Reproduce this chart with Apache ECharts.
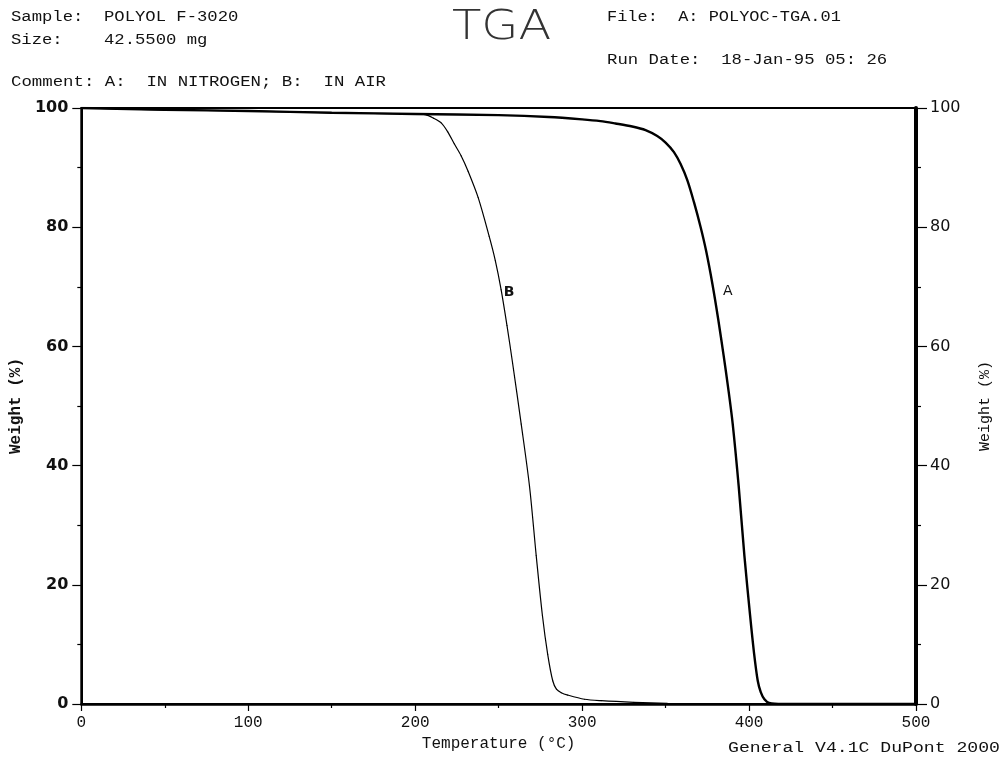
<!DOCTYPE html>
<html>
<head>
<meta charset="utf-8">
<title>TGA</title>
<script src="https://cdn.jsdelivr.net/npm/echarts@6/dist/echarts.min.js"></script>
<style>
    html, body { margin: 0; padding: 0; background: #fff; }
    #tga { width: 1005px; height: 757px; }
</style>
</head>
<body>
<div id="tga"></div>
<script>
// temperature (°C) / weight (%)
var tempA = [0, 50, 100, 150, 200, 250, 280, 300, 311, 320, 330, 338, 345, 350, 355, 359, 363, 367, 371, 374.3, 378.1, 381.5, 384.8, 387.5, 390.2, 393.8, 397.2, 400.6, 403, 405.2, 407, 409.2, 412, 420, 500];
var weightA = [100, 99.7, 99.5, 99.2, 99.0, 98.8, 98.5, 98.1, 97.8, 97.4, 96.9, 96.3, 95.3, 94.2, 92.6, 90.6, 87.9, 84.2, 80.0, 76.0, 70.4, 64.6, 58.4, 53.0, 47.0, 36.5, 24.9, 14.9, 8.5, 3.9, 2.0, 0.8, 0.2, 0, 0];

var tempB = [0, 50, 100, 150, 200, 206, 211, 215.6, 219.5, 223.4, 227.5, 231.7, 237.7, 244.3, 248, 251.5, 255, 258.3, 263.5, 268.5, 272.5, 276.2, 279.4, 282.4, 284.6, 287.5, 291.4, 301.4, 311.4, 331, 351, 380, 420, 500];
var weightB = [100, 99.7, 99.5, 99.2, 99.0, 98.9, 98.3, 97.5, 96.0, 94.0, 92.0, 89.4, 85.0, 78.5, 74.4, 69.5, 63.5, 57.3, 47.0, 36.5, 24.9, 14.9, 8.3, 3.9, 2.5, 1.9, 1.5, 0.8, 0.55, 0.28, 0.12, 0.05, 0, 0];

var xTicks = [0, 100, 200, 300, 400, 500];
var yTicks = [0, 20, 40, 60, 80, 100];

// curve letters sit next to one point of each curve
var labelA = { name: 'A', temp: 378.1 };
var labelB = { name: 'B', temp: 251.5 };

var headerLines = [
    { text: 'Sample:  POLYOL F-3020', x: 11, y: 17, sx: 1.23 },
    { text: 'Size:    42.5500 mg', x: 11, y: 40, sx: 1.23 },
    { text: 'Comment: A:  IN NITROGEN; B:  IN AIR', x: 11, y: 82, sx: 1.24 },
    { text: 'File:  A: POLYOC-TGA.01', x: 607, y: 17, sx: 1.21 },
    { text: 'Run Date:  18-Jan-95 05: 26', x: 607, y: 60, sx: 1.235 },
    { text: 'General V4.1C DuPont 2000', x: 728, y: 748, sx: 1.295 }
];

var mono = '"Liberation Mono", "DejaVu Sans Mono", monospace';

function buildData(temps, weights, lbl, labelStyle) {
    var out = [];
    for (var i = 0; i < temps.length; i++) {
        var item = { value: [temps[i], weights[i]] };
        if (temps[i] === lbl.temp) {
            item.label = Object.assign({ show: true, formatter: lbl.name }, labelStyle);
        }
        out.push(item);
    }
    return out;
}

function buildHeader() {
    var g = [];
    for (var i = 0; i < headerLines.length; i++) {
        var line = headerLines[i];
        g.push({
            type: 'text',
            x: line.x,
            y: line.y,
            scaleX: line.sx,
            style: {
                text: line.text,
                font: '14px ' + mono,
                fill: '#111',
                verticalAlign: 'middle'
            }
        });
    }
    g.push({
        type: 'text',
        x: 452,
        y: 29,
        scaleX: 1.2,
        style: {
            text: 'TGA',
            font: '200 40px "DejaVu Sans", sans-serif',
            fill: '#333',
            verticalAlign: 'middle'
        }
    });
    return g;
}

function tickFormatter(ticks) {
    return function (v) { return ticks.indexOf(v) >= 0 ? String(v) : ''; };
}

var chart = echarts.init(document.getElementById('tga'), null, { renderer: 'canvas' });
var option = {
    backgroundColor: '#fff',
    animation: false,
    graphic: buildHeader(),
    grid: {
        left: 80, right: 89, top: 108, bottom: 47,
        show: true,
        borderColor: '#000',
        borderWidth: 2
    },
    xAxis: {
        type: 'value',
        min: xTicks[0],
        max: xTicks[xTicks.length - 1],
        interval: 100,
        name: 'Temperature (°C)',
        nameLocation: 'middle',
        nameGap: 32,
        nameTextStyle: { fontFamily: mono, fontSize: 16, color: '#111' },
        axisLine: { lineStyle: { color: '#000', width: 2.5 } },
        axisTick: { length: 7, lineStyle: { color: '#000', width: 1.2 } },
        minorTick: { show: true, splitNumber: 2, length: 4, lineStyle: { color: '#000', width: 1.2 } },
        axisLabel: { fontFamily: mono, fontSize: 16, color: '#111', margin: 11, formatter: tickFormatter(xTicks) },
        splitLine: { show: false }
    },
    yAxis: [
        {
            type: 'value',
            position: 'left',
            min: 0, max: 100, interval: 20,
            name: 'Weight (%)',
            nameLocation: 'middle',
            nameGap: 56,
            nameTextStyle: { fontFamily: mono, fontSize: 16, fontWeight: 'bold', color: '#111' },
            axisLine: { show: true, lineStyle: { color: '#000', width: 2 } },
            axisTick: { length: 9, lineStyle: { color: '#000', width: 1.2 } },
            minorTick: { show: true, splitNumber: 2, length: 4, lineStyle: { color: '#000', width: 1.2 } },
            axisLabel: { fontFamily: '"DejaVu Sans", sans-serif', fontSize: 16, fontWeight: 'bold', color: '#111', margin: 13, formatter: tickFormatter(yTicks) },
            splitLine: { show: false }
        },
        {
            type: 'value',
            position: 'right',
            min: 0, max: 100, interval: 20,
            name: 'Weight (%)',
            nameLocation: 'middle',
            nameGap: 62,
            nameRotate: 90,
            nameTextStyle: { fontFamily: mono, fontSize: 15, color: '#111' },
            axisLine: { show: true, lineStyle: { color: '#000', width: 4 } },
            axisTick: { length: 11, lineStyle: { color: '#000', width: 1.2 } },
            minorTick: { show: true, splitNumber: 2, length: 5, lineStyle: { color: '#000', width: 1.2 } },
            axisLabel: { fontFamily: '"DejaVu Sans", sans-serif', fontSize: 16, color: '#111', margin: 14, formatter: tickFormatter(yTicks) },
            splitLine: { show: false }
        }
    ],
    series: [
        {
            name: 'A: IN NITROGEN',
            type: 'line',
            showSymbol: true,
            symbol: 'circle',
            symbolSize: 1,
            itemStyle: { color: '#000' },
            smooth: 0.3,
            lineStyle: { color: '#000', width: 2.4 },
            data: buildData(tempA, weightA, labelA, {
                position: 'right', distance: 10, offset: [0, 7], color: '#111',
                fontFamily: '"DejaVu Sans", sans-serif', fontSize: 14
            })
        },
        {
            name: 'B: IN AIR',
            type: 'line',
            showSymbol: true,
            symbol: 'circle',
            symbolSize: 1,
            itemStyle: { color: '#000' },
            smooth: 0.3,
            lineStyle: { color: '#000', width: 1.2 },
            data: buildData(tempB, weightB, labelB, {
                position: 'right', distance: 2, offset: [0, 3], color: '#111',
                fontFamily: '"DejaVu Sans", sans-serif', fontSize: 14, fontWeight: 'bold'
            })
        }
    ]
};
chart.setOption(option);
</script>
</body>
</html>
